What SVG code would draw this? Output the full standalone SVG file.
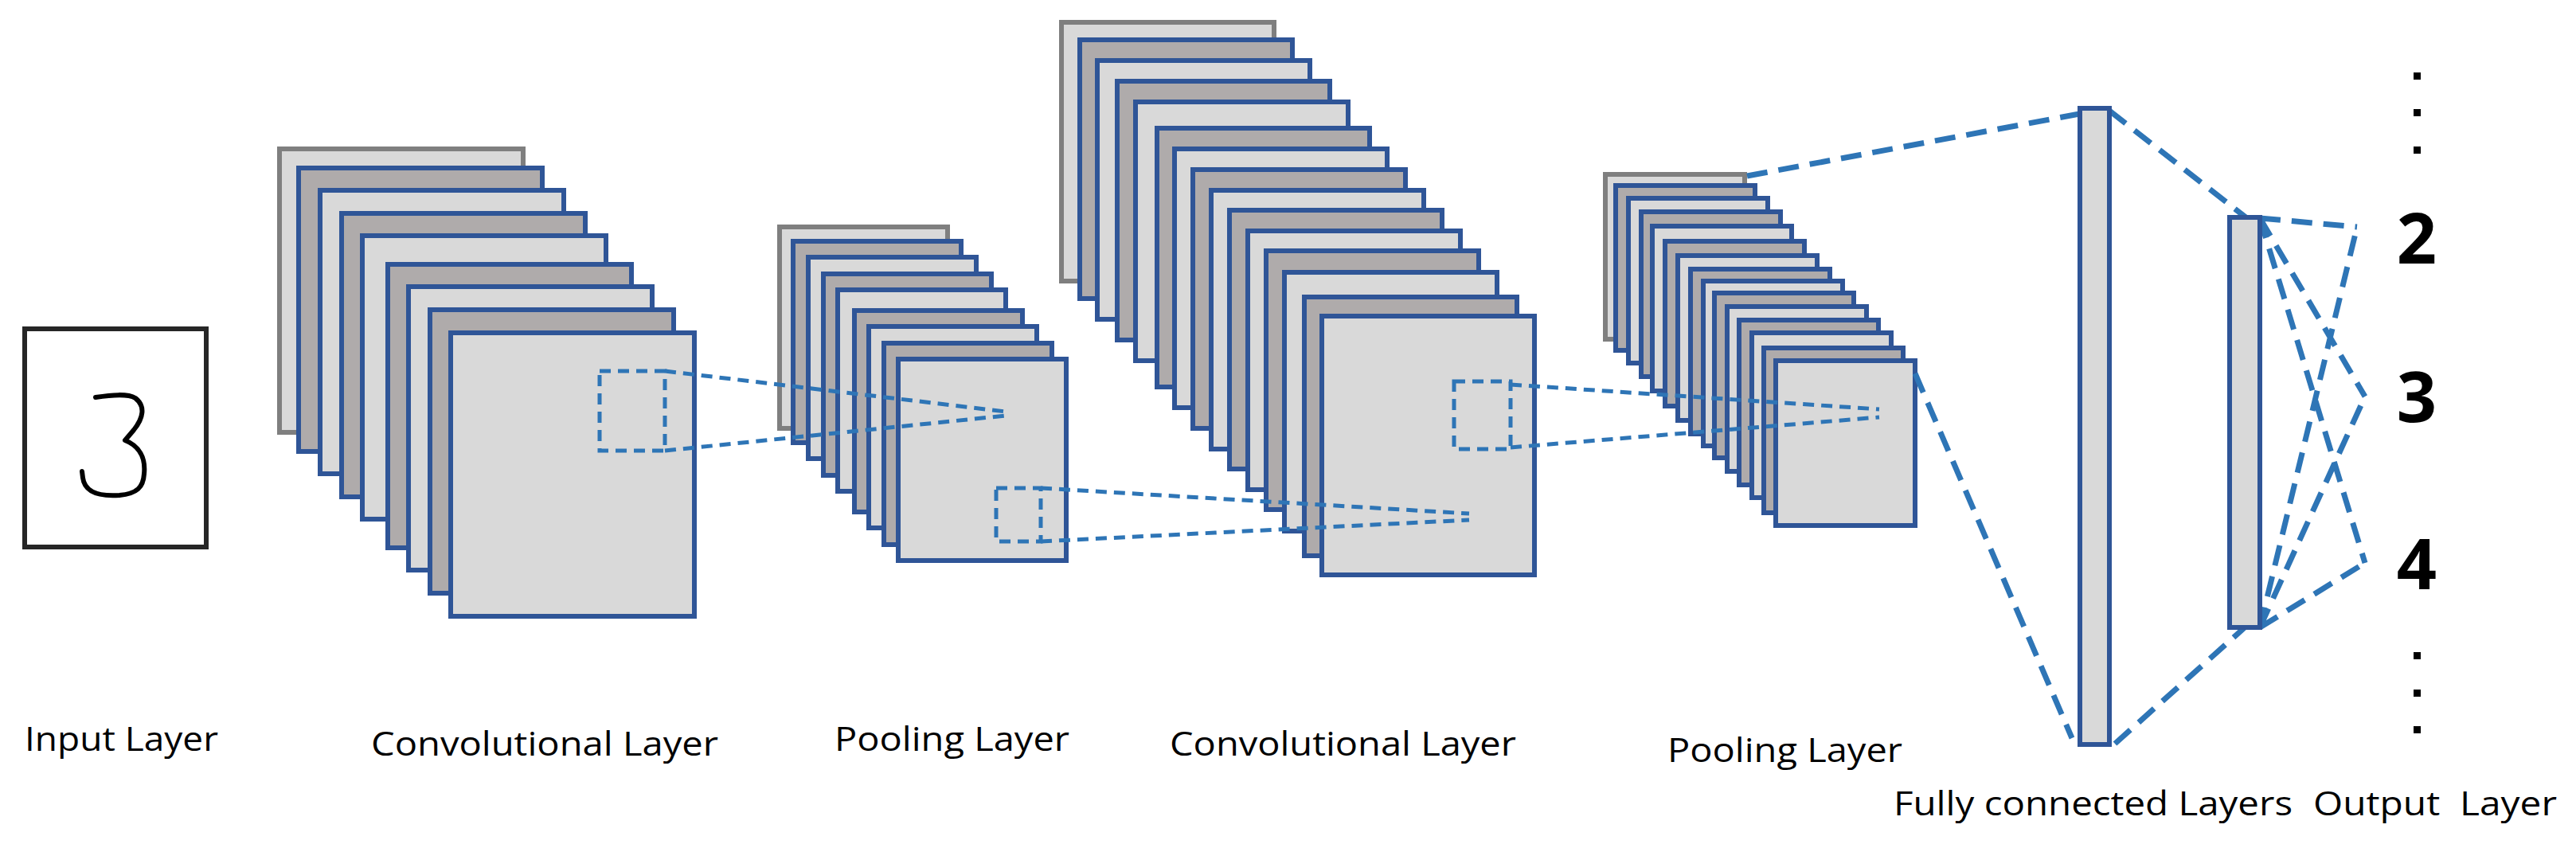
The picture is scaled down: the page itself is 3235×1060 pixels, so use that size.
<svg xmlns="http://www.w3.org/2000/svg" width="3235" height="1060" viewBox="0 0 3235 1060">
<style>
.l{fill:#d9d9d9;stroke:#2f5597;stroke-width:6}
.d{fill:#afabab;stroke:#2f5597;stroke-width:6}
.g{fill:#d9d9d9;stroke:#7f7f7f;stroke-width:6}
.ds{fill:none;stroke:#2e75b6;stroke-width:5;stroke-dasharray:14 9}
.dl{fill:none;stroke:#2e75b6;stroke-width:7;stroke-dasharray:26 14}
.t{font-family:"Open Sans","Noto Sans","Liberation Sans",sans-serif;font-size:42px;fill:#000}
.n{font-family:"Open Sans","Liberation Sans",sans-serif;font-size:88px;font-weight:bold;fill:#000}
</style>
<rect width="3235" height="1060" fill="#fff"/>
<g id="input">
<rect x="31" y="413" width="228" height="274" fill="#fff" stroke="#262626" stroke-width="6"/>
<path d="M120,499 C140,496 160,494 170,500 C183,510 180,525 168,540 L157,553 C175,560 183,575 181,595 C180,612 172,620 150,622 C120,624 106,616 104,600 L103,592" fill="none" stroke="#000" stroke-width="6" stroke-linecap="round" stroke-linejoin="round"/>
</g>
<g id="conv1">
<rect class="g" x="351" y="187" width="306" height="356"/>
<rect class="d" x="375" y="211" width="306" height="356"/>
<rect class="l" x="402" y="239" width="306" height="356"/>
<rect class="d" x="429" y="268" width="306" height="356"/>
<rect class="l" x="455" y="296" width="306" height="356"/>
<rect class="d" x="487" y="332" width="306" height="356"/>
<rect class="l" x="513" y="360" width="306" height="356"/>
<rect class="d" x="540" y="389" width="306" height="356"/>
<rect class="l" x="566" y="418" width="306" height="356"/>
<rect class="ds" x="753" y="466" width="82" height="100"/>
</g>
<g id="pool1">
<rect class="g" x="979" y="285" width="211" height="253"/>
<rect class="d" x="996" y="303" width="211" height="253"/>
<rect class="l" x="1015" y="323" width="211" height="253"/>
<rect class="d" x="1034" y="344" width="211" height="253"/>
<rect class="l" x="1052" y="364" width="211" height="253"/>
<rect class="d" x="1073" y="390" width="211" height="253"/>
<rect class="l" x="1091" y="410" width="211" height="253"/>
<rect class="d" x="1110" y="431" width="211" height="253"/>
<rect class="l" x="1128" y="451" width="211" height="253"/>
<rect class="ds" x="1251" y="613" width="56" height="67"/>
</g>
<g id="conv2">
<rect class="g" x="1333" y="28" width="267" height="325"/>
<rect class="d" x="1356" y="50" width="267" height="325"/>
<rect class="l" x="1378" y="76" width="267" height="325"/>
<rect class="d" x="1403" y="102" width="267" height="325"/>
<rect class="l" x="1426" y="128" width="267" height="325"/>
<rect class="d" x="1453" y="161" width="267" height="325"/>
<rect class="l" x="1475" y="187" width="267" height="325"/>
<rect class="d" x="1498" y="213" width="267" height="325"/>
<rect class="l" x="1521" y="239" width="267" height="325"/>
<rect class="d" x="1544" y="264" width="267" height="325"/>
<rect class="l" x="1567" y="290" width="267" height="325"/>
<rect class="d" x="1590" y="315" width="267" height="325"/>
<rect class="l" x="1613" y="342" width="267" height="325"/>
<rect class="d" x="1638" y="373" width="267" height="325"/>
<rect class="l" x="1660" y="397" width="267" height="325"/>
<rect class="ds" x="1826" y="479" width="71" height="85"/>
</g>
<g id="pool2">
<rect class="g" x="2016" y="219" width="175" height="207"/>
<rect class="d" x="2029" y="233" width="175" height="207"/>
<rect class="l" x="2045" y="249" width="175" height="207"/>
<rect class="d" x="2061" y="266" width="175" height="207"/>
<rect class="l" x="2075" y="284" width="175" height="207"/>
<rect class="d" x="2091" y="303" width="175" height="207"/>
<rect class="l" x="2107" y="321" width="175" height="207"/>
<rect class="d" x="2123" y="338" width="175" height="207"/>
<rect class="l" x="2139" y="353" width="175" height="207"/>
<rect class="d" x="2153" y="368" width="175" height="207"/>
<rect class="l" x="2169" y="385" width="175" height="207"/>
<rect class="d" x="2184" y="402" width="175" height="207"/>
<rect class="l" x="2200" y="418" width="175" height="207"/>
<rect class="d" x="2215" y="437" width="175" height="207"/>
<rect class="l" x="2230" y="453" width="175" height="207"/>
</g>
<g id="connectors">
<path class="ds" d="M835,466 L1263,517 M835,566 L1263,522"/>
<path class="ds" d="M1307,613 L1845,645 M1307,680 L1845,653"/>
<path class="ds" d="M1897,483 L2360,514 M1897,562 L2360,524"/>
<path class="dl" d="M2194,221 L2633,139 M2405,469 L2602,927"/>
<path class="dl" d="M2649,139 L2823,275 M2656,934 L2819,788"/>
<path class="dl" d="M2838,274 L2960,285 M2838,274 L2970,498 M2838,274 L2970,707 M2838,788 L2960,285 M2838,788 L2970,498 M2838,788 L2970,707"/>
</g>
<g id="fc1"><rect class="l" x="2612" y="136" width="37" height="799"/></g>
<g id="fc2"><rect class="l" x="2800" y="273" width="38" height="515"/></g>
<g id="output">
<text class="n" x="3035" y="331" text-anchor="middle">2</text>
<text class="n" x="3035" y="530" text-anchor="middle">3</text>
<text class="n" x="3035" y="740" text-anchor="middle">4</text>
<g fill="#000">
<rect x="3031" y="91" width="9" height="9"/><rect x="3031" y="137" width="9" height="9"/><rect x="3031" y="184" width="9" height="9"/>
<rect x="3031" y="819" width="9" height="9"/><rect x="3031" y="866" width="9" height="9"/><rect x="3031" y="912" width="9" height="9"/>
</g>
</g>
<g id="labels">
<text class="t" x="31" y="943" textLength="243" lengthAdjust="spacingAndGlyphs">Input Layer</text>
<text class="t" x="466" y="949" textLength="436" lengthAdjust="spacingAndGlyphs">Convolutional Layer</text>
<text class="t" x="1048" y="943" textLength="295" lengthAdjust="spacingAndGlyphs">Pooling Layer</text>
<text class="t" x="1469" y="949" textLength="435" lengthAdjust="spacingAndGlyphs">Convolutional Layer</text>
<text class="t" x="2094" y="957" textLength="295" lengthAdjust="spacingAndGlyphs">Pooling Layer</text>
<text class="t" x="2378" y="1024" textLength="501" lengthAdjust="spacingAndGlyphs">Fully connected Layers</text>
<text class="t" x="2905" y="1024" textLength="306" lengthAdjust="spacingAndGlyphs" xml:space="preserve">Output  Layer</text>
</g>
</svg>
